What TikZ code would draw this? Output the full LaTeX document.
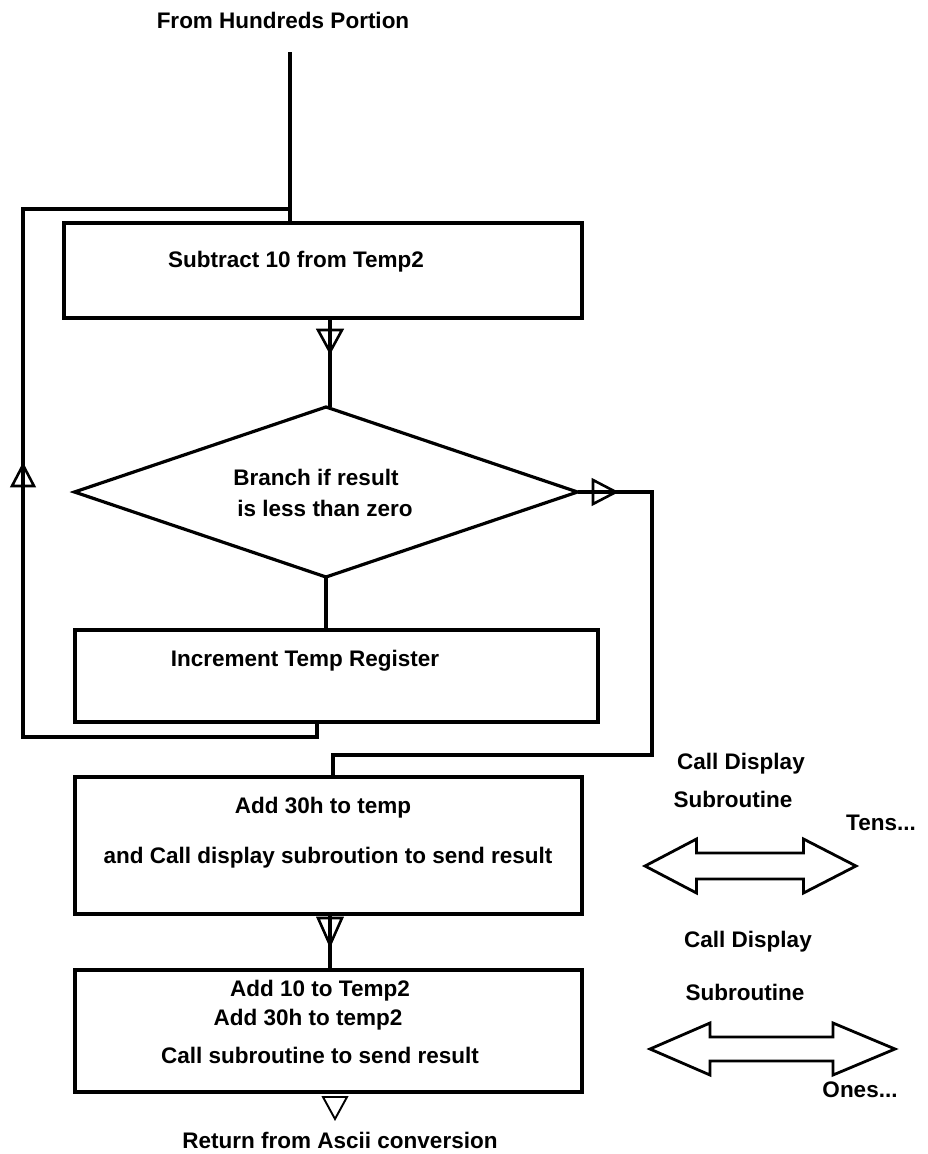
\documentclass[tikz,border=0pt]{standalone}
\usepackage{fontspec}
\setmainfont{Liberation Sans}
\usetikzlibrary{shapes.geometric}
\begin{document}
\begin{tikzpicture}[x=1pt,y=-1pt,
  ln/.style={line width=3.2pt, line join=miter},
  box/.style={draw, line width=3.2pt, rectangle, inner sep=0pt, outer sep=0pt, anchor=north west},
  tri/.style={line width=2.6pt, line join=miter},
  dbl/.style={line width=2.8pt, line join=miter},
  txt/.style={font=\bfseries\fontsize{22.5}{27}\selectfont, inner sep=0pt, anchor=base}]
\useasboundingbox (0,0) rectangle (927,1154);

% boxes
\node[box, minimum width=518pt, minimum height=95pt] (b1) at (64,223) {};
\node[draw, diamond, line width=3.2pt, inner sep=0pt, outer sep=0pt,
      minimum width=503pt, minimum height=170pt] (d) at (326,492) {};
\node[box, minimum width=523pt, minimum height=92pt] (b3) at (75,630) {};
\node[box, minimum width=507pt, minimum height=137pt] (b4) at (75,777) {};
\node[box, minimum width=507pt, minimum height=122pt] (b5) at (75,970) {};

% texts
\node[txt] (title) at (283,28) {From Hundreds Portion};
\node[txt] (t1) at (296,267) {Subtract 10 from Temp2};
\node[txt] (t2a) at (316,485) {Branch if result};
\node[txt] (t2b) at (325,516) {is less than zero};
\node[txt] (t3) at (305,666) {Increment Temp Register};
\node[txt] (t4a) at (323,813) {Add 30h to temp};
\node[txt] (t4b) at (328,863) {and Call display subroution to send result};
\node[txt] (t5a) at (320,996) {Add 10 to Temp2};
\node[txt] (t5b) at (308,1025) {Add 30h to temp2};
\node[txt] (t5c) at (320,1063) {Call subroutine to send result};
\node[txt] (ret) at (340,1148) {Return from Ascii conversion};

\node[txt] (cd1) at (741,769) {Call Display};
\node[txt] (sr1) at (733,807) {Subroutine};
\node[txt] (tens) at (881,830) {Tens...};
\node[txt] (cd2) at (748,947) {Call Display};
\node[txt] (sr2) at (745,1000) {Subroutine};
\node[txt] (ones) at (860,1097) {Ones...};

% connectors
\coordinate (top) at (290,52);
\draw[ln] (top) -- (top |- b1.north);

\coordinate (ax) at (330,330);
\draw[ln] (ax |- b1.south) -- (ax |- d.north);
\draw[tri] (ax) ++(-12,0) -- ++(24,0) -- ++(-12,22) -- cycle;

\draw[ln] (d.south) -- (d.south |- b3.north);

\coordinate (l0) at (317,737);
\coordinate (l1) at (23,737);
\coordinate (l2) at (23,209);
\draw[ln] (l0 |- b3.south) -- (l0) -- (l1) -- (l2) -- (top |- l2);
\coordinate (ua) at (23,465);
\draw[tri] (ua) -- ++(-11,21) -- ++(22,0) -- cycle;

\coordinate (r1) at (652,492);
\coordinate (r2) at (652,755);
\coordinate (r3) at (333,755);
\draw[ln] (d.east) -- (r1) -- (r2) -- (r3) -- (r3 |- b4.north);
\coordinate (ra) at (616,492);
\draw[tri] (ra) -- ++(-23,-12) -- ++(0,24) -- cycle;

\coordinate (bx) at (330,918);
\draw[ln] (bx |- b4.south) -- (bx |- b5.north);
\draw[tri] (bx) ++(-12,0) -- ++(24,0) -- ++(-12,27) -- cycle;

\coordinate (ex) at (335,1097);
\draw[line width=1.9pt, line join=miter] (ex) ++(-12,0) -- ++(24,0) -- ++(-12,22) -- cycle;

% double arrows
\coordinate (da1) at (750.5,866);
\draw[dbl, shift={(da1)}] (-105.5,0) -- (-54,-27) -- (-54,-13) -- (53,-13) -- (53,-27)
   -- (105.5,0) -- (53,27) -- (53,13) -- (-54,13) -- (-54,27) -- cycle;
\coordinate (da2) at (772.5,1049);
\draw[dbl, shift={(da2)}] (-122.5,0) -- (-62.5,-26) -- (-62.5,-12) -- (60.5,-12) -- (60.5,-26)
   -- (122.5,0) -- (60.5,26) -- (60.5,12) -- (-62.5,12) -- (-62.5,26) -- cycle;
\end{tikzpicture}
\end{document}
